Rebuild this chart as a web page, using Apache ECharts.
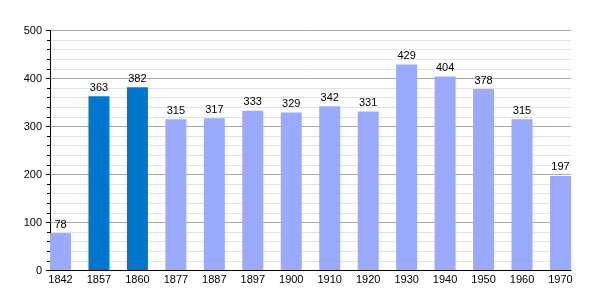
<!DOCTYPE html>
<html><head><meta charset="utf-8">
<script src="https://cdn.jsdelivr.net/npm/echarts@6/dist/echarts.min.js"></script>
<style>html,body{margin:0;padding:0;background:#fff}#c{width:600px;height:300px}</style>
</head><body><div id="c"></div>
<script>
const years = ['1842','1857','1860','1877','1887','1897','1900','1910','1920','1930','1940','1950','1960','1970'];
const population = [78,363,382,315,317,333,329,342,331,429,404,378,315,197];
const highlighted = ['1857','1860'];
const yTicks = [0,100,200,300,400,500];

const lightColor = '#99aaff';
const darkColor = '#0077cc';
const font = 'Liberation Sans, Arial, sans-serif';

const chart = echarts.init(document.getElementById('c'), null, {renderer:'canvas'});
chart.setOption({
  animation:false,
  backgroundColor:'#fff',
  grid:[
    {left:50, right:29, top:30.5, bottom:29.5},
    {left:41.27, right:20.3, top:30.5, bottom:29.5}
  ],
  xAxis:[
    {type:'category', gridIndex:0, data:years, boundaryGap:true, z:20,
     axisLine:{show:true, lineStyle:{color:'#000', width:1}}, axisTick:{show:false}, axisLabel:{show:false}, splitLine:{show:false}},
    {type:'category', gridIndex:1, data:years,
     axisLine:{show:false}, axisTick:{show:false},
     axisLabel:{color:'#000', fontSize:11, fontFamily:font, margin:4, interval:0}}
  ],
  yAxis:[
    {type:'value', gridIndex:0, min:yTicks[0], max:yTicks[yTicks.length-1], interval:100, z:0,
     axisLine:{show:true, lineStyle:{color:'#000'}},
     axisTick:{show:true, length:4, lineStyle:{color:'#000'}},
     minorTick:{show:true, splitNumber:5, length:3, lineStyle:{color:'#000'}},
     splitLine:{show:true, lineStyle:{color:'#aaaaaa'}},
     minorSplitLine:{show:true, lineStyle:{color:'#e3e3e3'}},
     axisLabel:{color:'#000', fontSize:11, fontFamily:font, margin:8}},
    {type:'value', gridIndex:1, min:0, max:500, show:false}
  ],
  series:[{
    type:'bar', xAxisIndex:1, yAxisIndex:1, barWidth:21, z:10,
    data: population.map((v,i)=>({value:v, itemStyle:{color: highlighted.includes(years[i]) ? darkColor : lightColor}})),
    label:{show:true, position:'top', distance:3, color:'#000', fontSize:11, fontFamily:font}
  }]
});
</script></body></html>
